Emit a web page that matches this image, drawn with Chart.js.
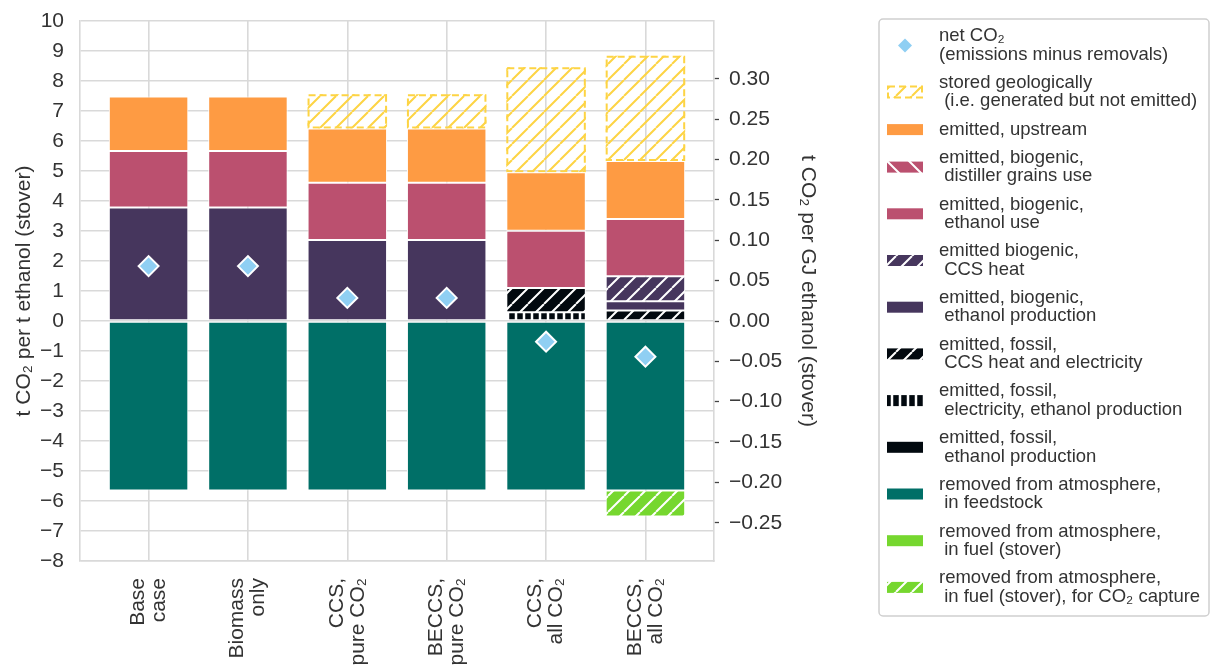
<!DOCTYPE html>
<html>
<head>
<meta charset="utf-8">
<title>CO2 balance of stover ethanol</title>
<script src="https://cdn.jsdelivr.net/npm/chart.js@4"></script>
<style>
  html, body { margin: 0; padding: 0; background: #fff; }
  canvas { display: block; }
</style>
</head>
<body>
<canvas id="chart" width="1212" height="665"></canvas>
<script>
// t CO2 per t ethanol (bottom of stack first)
const scenarios = [['Base', 'case'], ['Biomass', 'only'], ['CCS,', 'pure CO₂'], ['BECCS,', 'pure CO₂'], ['CCS,', 'all CO₂'], ['BECCS,', 'all CO₂']];
const fossilEthanolProd  = [0, 0, 0, 0, 0, 0];
const fossilElecProd     = [0, 0, 0, 0, 0.29, 0];
const fossilCcsHeat      = [0, 0, 0, 0, 0.81, 0.35];
const bioEthanolProd     = [3.78, 3.78, 2.70, 2.70, 0, 0.31];
const bioCcsHeat         = [0, 0, 0, 0, 0, 0.83];
const bioEthanolUse      = [1.89, 1.89, 1.91, 1.91, 1.91, 1.91];
const bioDistillerGrains = [0, 0, 0, 0, 0, 0];
const upstream           = [1.81, 1.81, 1.81, 1.81, 1.95, 1.93];
const storedGeo          = [0, 0, 1.14, 1.14, 3.50, 3.51];
const removedFeedstock   = [-5.65, -5.65, -5.65, -5.65, -5.65, -5.65];
const removedFuel        = [0, 0, 0, 0, 0, 0];
const removedFuelCapture = [0, 0, 0, 0, 0, -0.87];
const netCO2             = [1.83, 1.83, 0.77, 0.77, -0.69, -1.19];

const rightTicks = [-0.25, -0.20, -0.15, -0.10, -0.05, 0, 0.05, 0.10, 0.15, 0.20, 0.25, 0.30];
const LHV = 26.9; // GJ per t ethanol, links left and right axis

const TXT = '#333333';
const GRID = '#d9d9d9';
const FONT = '"Liberation Sans", Arial, sans-serif';
Chart.defaults.font.family = FONT;

const canvas = document.getElementById('chart');
const ctx = canvas.getContext('2d');

function hatch(bg, fg, dir, size, lw) {
  const tile = document.createElement('canvas');
  tile.width = tile.height = size;
  const g = tile.getContext('2d');
  if (bg) { g.fillStyle = bg; g.fillRect(0, 0, size, size); }
  g.strokeStyle = fg;
  g.lineWidth = lw;
  g.beginPath();
  if (dir === '|') {
    g.moveTo(size / 2, 0); g.lineTo(size / 2, size);
  } else {
    for (const o of [-size, 0, size]) {
      if (dir === '/') { g.moveTo(o, size); g.lineTo(o + size, 0); }
      else { g.moveTo(o, 0); g.lineTo(o + size, size); }
    }
  }
  g.stroke();
  return ctx.createPattern(tile, 'repeat');
}

const C = {
  orange: '#fe9b43', pink: '#bb506f', purple: '#46365d', black: '#02090f',
  teal: '#006f67', green: '#76d72f', yellow: '#fdd444', net: '#8fcff3'
};

function barSet(label, values, fill, extra) {
  return Object.assign({
    type: 'bar', label: label, backgroundColor: fill,
    borderColor: '#ffffff', borderWidth: 1, borderSkipped: false,
    data: values.map((v, i) => ({ x: i, y: v })), order: 2
  }, extra || {});
}

const datasets = [
  barSet('emitted, fossil,\n ethanol production', fossilEthanolProd, C.black),
  barSet('emitted, fossil,\n electricity, ethanol production', fossilElecProd, hatch(C.black, '#fff', '|', 8, 2.5)),
  barSet('emitted, fossil,\n CCS heat and electricity', fossilCcsHeat, hatch(C.black, '#fff', '/', 16, 2)),
  barSet('emitted, biogenic,\n ethanol production', bioEthanolProd, C.purple),
  barSet('emitted biogenic,\n CCS heat', bioCcsHeat, hatch(C.purple, '#fff', '/', 16, 2)),
  barSet('emitted, biogenic,\n ethanol use', bioEthanolUse, C.pink),
  barSet('emitted, biogenic,\n distiller grains use', bioDistillerGrains, hatch(C.pink, '#fff', '\\', 22, 2)),
  barSet('emitted, upstream', upstream, C.orange),
  barSet('stored geologically\n (i.e. generated but not emitted)', storedGeo, hatch(null, C.yellow, '/', 16, 2),
    { borderWidth: 0, dashedEdge: C.yellow }),
  barSet('removed from atmosphere,\n in feedstock', removedFeedstock, C.teal),
  barSet('removed from atmosphere,\n in fuel (stover)', removedFuel, C.green),
  barSet('removed from atmosphere,\n in fuel (stover), for CO₂ capture', removedFuelCapture, hatch(C.green, '#fff', '/', 16, 2)),
  {
    type: 'line', label: 'net CO₂\n(emissions minus removals)', stack: 'net',
    data: netCO2.map((v, i) => ({ x: i, y: v })),
    showLine: false, pointStyle: 'rectRot', pointRadius: 10,
    pointBackgroundColor: C.net, pointBorderColor: '#ffffff', pointBorderWidth: 2, order: 0
  }
];

// legend top to bottom, as dataset indices
const legendOrder = [12, 8, 7, 6, 5, 4, 3, 2, 1, 0, 9, 10, 11];

const fmt = (v, d) => v.toFixed(d).replace('-', '\u2212');

// dashed outline for the stored CO2 segments
const dashedEdges = {
  id: 'dashedEdges',
  afterDatasetDraw(chart, args) {
    const ds = chart.data.datasets[args.index];
    if (!ds.dashedEdge) return;
    const c = chart.ctx;
    c.save();
    c.strokeStyle = ds.dashedEdge;
    c.lineWidth = 2;
    c.setLineDash([7, 4]);
    args.meta.data.forEach(el => {
      const p = el.getProps(['x', 'y', 'base', 'width'], true);
      const h = Math.abs(p.base - p.y);
      if (h < 1) return;
      c.strokeRect(p.x - p.width / 2 + 1, Math.min(p.y, p.base) + 1, p.width - 2, h - 2);
    });
    c.restore();
  }
};

const sideLegend = {
  id: 'sideLegend',
  afterDraw(chart) {
    const c = chart.ctx;
    const x0 = 879, y0 = 19, w = 330, h = 597;
    const L = 18.4, gap = 9.9;
    c.save();
    c.beginPath();
    c.roundRect(x0, y0, w, h, 4);
    c.fillStyle = '#ffffff';
    c.fill();
    c.strokeStyle = '#cfcfcf';
    c.lineWidth = 1.5;
    c.stroke();
    c.font = '18.5px ' + FONT;
    c.textBaseline = 'middle';
    let y = y0 + 8;
    legendOrder.forEach(i => {
      const ds = chart.data.datasets[i];
      const lines = ds.label.split('\n');
      const cy = y + lines.length * L / 2;
      if (ds.type === 'line') {
        c.beginPath();
        c.moveTo(905, cy - 7); c.lineTo(912, cy); c.lineTo(905, cy + 7); c.lineTo(898, cy);
        c.closePath();
        c.fillStyle = ds.pointBackgroundColor;
        c.fill();
      } else {
        c.fillStyle = ds.backgroundColor;
        c.fillRect(887, cy - 5.5, 36, 11);
        if (ds.dashedEdge) {
          c.strokeStyle = ds.dashedEdge;
          c.lineWidth = 2;
          c.setLineDash([7, 4]);
          c.strokeRect(888, cy - 5.5, 34, 11);
          c.setLineDash([]);
        }
      }
      c.fillStyle = TXT;
      lines.forEach((t, k) => c.fillText(t, 939, y + L * k + L / 2));
      y += lines.length * L + gap;
    });
    c.restore();
  }
};

new Chart(ctx, {
  type: 'bar',
  data: { datasets: datasets },
  plugins: [dashedEdges, sideLegend],
  options: {
    responsive: false,
    animation: false,
    events: [],
    layout: { padding: { left: 0, top: 21, right: 388, bottom: 0 } },
    plugins: { legend: { display: false }, tooltip: { enabled: false } },
    datasets: { bar: { categoryPercentage: 0.8, barPercentage: 1 } },
    scales: {
      x: {
        type: 'linear', min: -0.69, max: 5.69, offset: false, stacked: true,
        afterBuildTicks: s => { s.ticks = scenarios.map((_, i) => ({ value: i })); },
        afterFit: s => { s.height = 104; s.paddingLeft = 0; s.paddingRight = 0; },
        grid: { color: GRID, lineWidth: 1.6, drawTicks: false, offset: false },
        border: { color: GRID, width: 1.6 },
        ticks: {
          autoSkip: false, minRotation: 90, maxRotation: 90, padding: 17, labelOffset: -10.5,
          color: TXT, font: { size: 21, lineHeight: 1 },
          callback: v => scenarios[Math.round(v)]
        }
      },
      y: {
        position: 'left', min: -8, max: 10, stacked: true,
        afterFit: s => { s.width = 80; s.paddingTop = 0; s.paddingBottom = 0; },
        grid: { color: GRID, lineWidth: 1.6, drawTicks: false },
        border: { color: GRID, width: 1.6 },
        ticks: { stepSize: 1, padding: 16, color: TXT, font: { size: 21 }, callback: v => fmt(v, 0) },
        title: { display: true, text: 't CO₂ per t ethanol (stover)', color: TXT, font: { size: 21 }, padding: { top: 12, bottom: 0 } }
      },
      y2: {
        position: 'right', min: -8 / LHV, max: 10 / LHV,
        afterBuildTicks: s => { s.ticks = rightTicks.map(v => ({ value: v })); },
        afterFit: s => { s.width = 110; s.paddingTop = 0; s.paddingBottom = 0; },
        grid: { drawOnChartArea: false, tickLength: 5, tickColor: '#444444', tickWidth: 1.3 },
        border: { color: GRID, width: 1.6 },
        ticks: { padding: 10, color: TXT, font: { size: 21 }, callback: v => fmt(v, 2) },
        title: { display: true, text: 't CO₂ per GJ ethanol (stover)', color: TXT, font: { size: 21 }, padding: { top: 4, bottom: 4 } }
      }
    }
  }
});
</script>
</body>
</html>
